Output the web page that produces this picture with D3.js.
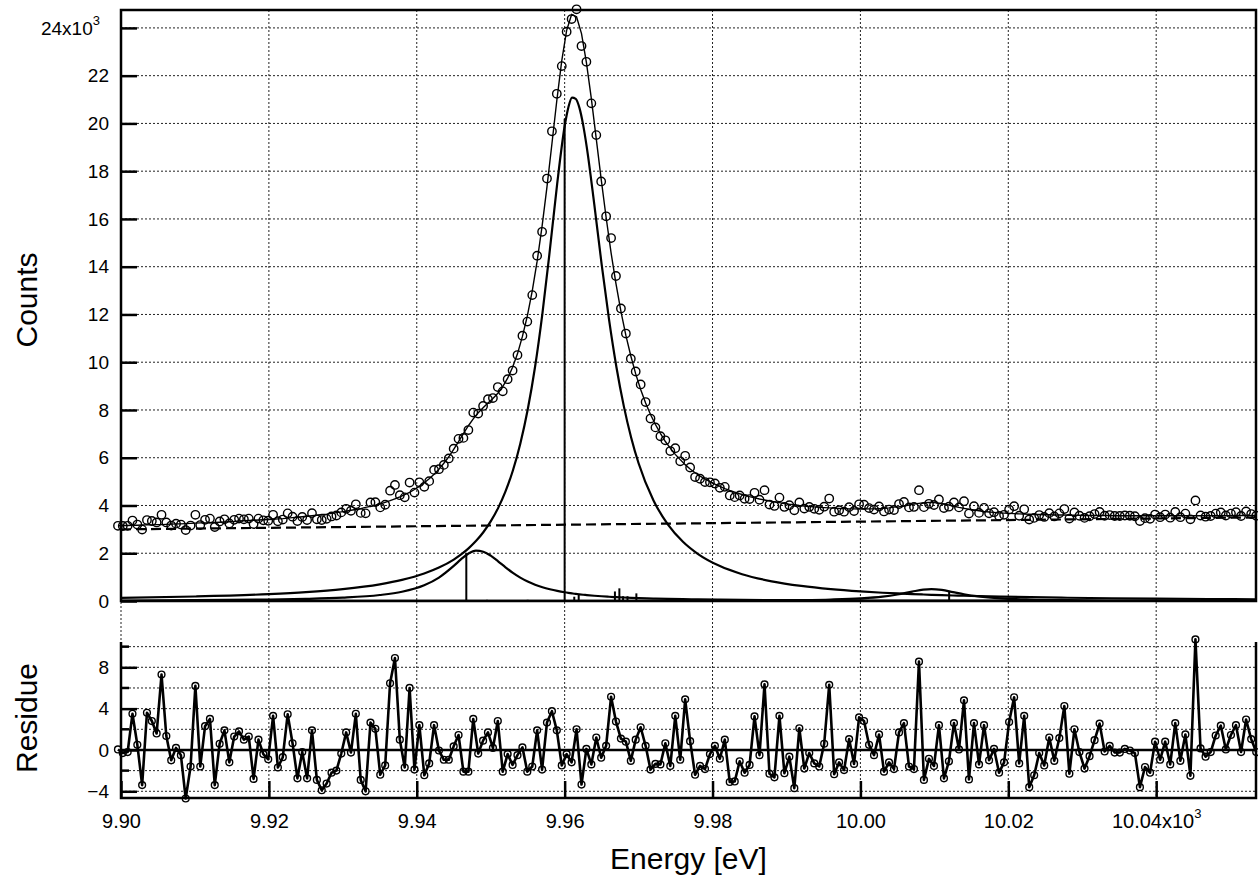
<!DOCTYPE html>
<html><head><meta charset="utf-8">
<script src="https://cdn.jsdelivr.net/npm/d3@7"></script>
<style>
body{margin:0;background:#fff}
svg{display:block}
text{font-family:"Liberation Sans",Arial,Helvetica,sans-serif;fill:#000}
</style>
</head><body>
<svg id="chart" width="1258" height="879"></svg>
<script>
// ---------------- data (energies in eV, counts in units of 10^3) ----------------
const energy = [
9899.59,9900.24,9900.90,9901.55,9902.21,9902.86,9903.51,9904.17,9904.82,9905.48,
9906.13,9906.79,9907.44,9908.10,9908.75,9909.41,9910.06,9910.72,9911.37,9912.03,
9912.68,9913.34,9913.99,9914.65,9915.31,9915.96,9916.62,9917.28,9917.93,9918.59,
9919.25,9919.91,9920.57,9921.22,9921.88,9922.54,9923.20,9923.86,9924.51,9925.17,
9925.83,9926.49,9927.15,9927.81,9928.47,9929.13,9929.79,9930.45,9931.10,9931.76,
9932.42,9933.08,9933.74,9934.40,9935.06,9935.73,9936.39,9937.05,9937.71,9938.37,
9939.03,9939.69,9940.35,9941.02,9941.68,9942.34,9943.00,9943.66,9944.33,9944.99,
9945.65,9946.31,9946.98,9947.64,9948.31,9948.97,9949.63,9950.30,9950.96,9951.63,
9952.29,9952.96,9953.62,9954.29,9954.95,9955.62,9956.28,9956.95,9957.61,9958.28,
9958.94,9959.61,9960.27,9960.94,9961.61,9962.28,9962.94,9963.61,9964.28,9964.94,
9965.61,9966.28,9966.94,9967.61,9968.28,9968.95,9969.61,9970.28,9970.95,9971.61,
9972.28,9972.95,9973.62,9974.29,9974.96,9975.63,9976.30,9976.97,9977.64,9978.31,
9978.98,9979.65,9980.32,9980.99,9981.66,9982.33,9983.00,9983.67,9984.34,9985.01,
9985.68,9986.35,9987.03,9987.70,9988.37,9989.05,9989.72,9990.39,9991.06,9991.74,
9992.41,9993.08,9993.76,9994.43,9995.10,9995.78,9996.45,9997.12,9997.79,9998.47,
9999.14,9999.82,10000.49,10001.17,10001.84,10002.52,10003.19,10003.87,10004.54,10005.22,
10005.89,10006.57,10007.24,10007.92,10008.59,10009.27,10009.95,10010.62,10011.30,10011.97,
10012.65,10013.33,10014.01,10014.68,10015.36,10016.04,10016.72,10017.40,10018.07,10018.75,
10019.43,10020.11,10020.79,10021.47,10022.15,10022.83,10023.50,10024.18,10024.86,10025.54,
10026.22,10026.90,10027.58,10028.26,10028.94,10029.62,10030.31,10030.99,10031.67,10032.35,
10033.03,10033.71,10034.39,10035.08,10035.76,10036.44,10037.12,10037.80,10038.49,10039.17,
10039.85,10040.53,10041.22,10041.90,10042.58,10043.27,10043.95,10044.63,10045.31,10046.00,
10046.68,10047.37,10048.05,10048.74,10049.42,10050.11,10050.79,10051.48,10052.16,10052.85,
10053.53];

const counts = [
3.15,3.14,3.15,3.37,3.20,2.99,3.39,3.35,3.29,3.61,
3.29,3.16,3.24,3.20,2.97,3.16,3.61,3.18,3.40,3.45,
3.10,3.33,3.42,3.25,3.40,3.45,3.42,3.45,3.22,3.45,
3.38,3.36,3.61,3.34,3.41,3.67,3.53,3.35,3.52,3.39,
3.68,3.42,3.39,3.44,3.54,3.58,3.71,3.86,3.78,4.05,
3.69,3.67,4.13,4.14,3.92,4.03,4.62,4.86,4.43,4.34,
4.96,4.54,4.97,4.78,5.02,5.49,5.52,5.70,5.97,6.38,
6.79,6.83,7.16,7.89,7.85,8.17,8.45,8.50,8.96,8.78,
9.29,9.65,10.30,11.11,11.70,12.81,14.46,15.46,17.69,19.67,
21.24,22.40,23.84,24.37,24.78,23.24,22.58,20.84,19.51,17.57,
16.11,15.20,13.61,12.25,11.20,10.15,9.61,9.07,8.33,7.64,
7.27,6.90,6.73,6.28,6.40,5.85,6.08,5.59,5.19,5.12,
4.98,4.97,4.92,4.74,4.78,4.42,4.35,4.42,4.28,4.27,
4.53,4.24,4.64,4.04,3.98,4.33,3.94,4.01,3.80,4.13,
3.87,3.94,3.86,3.82,3.95,4.29,3.74,3.80,3.74,3.93,
3.77,4.05,4.03,3.89,3.83,3.96,3.75,3.83,3.81,4.06,
4.15,3.92,3.94,4.64,3.93,4.07,4.02,4.25,3.89,3.95,
4.13,3.92,4.18,3.66,3.97,3.69,3.90,3.67,3.72,3.56,
3.61,3.83,3.97,3.57,3.84,3.41,3.48,3.60,3.52,3.68,
3.54,3.67,3.85,3.45,3.71,3.57,3.48,3.55,3.64,3.73,
3.57,3.60,3.56,3.56,3.58,3.57,3.55,3.35,3.47,3.44,
3.62,3.51,3.62,3.49,3.73,3.51,3.66,3.42,4.21,3.58,
3.53,3.56,3.66,3.71,3.58,3.66,3.72,3.56,3.75,3.64,
3.57];

const fitTotal = [
3.15,3.16,3.16,3.17,3.17,3.18,3.19,3.19,3.20,3.20,
3.21,3.22,3.23,3.23,3.24,3.25,3.26,3.27,3.27,3.28,
3.29,3.30,3.31,3.32,3.33,3.35,3.36,3.37,3.38,3.39,
3.40,3.41,3.42,3.44,3.45,3.47,3.49,3.51,3.53,3.55,
3.57,3.59,3.62,3.64,3.67,3.70,3.73,3.76,3.80,3.83,
3.87,3.92,3.96,4.01,4.07,4.13,4.20,4.28,4.36,4.45,
4.55,4.67,4.80,4.95,5.12,5.31,5.52,5.77,6.04,6.35,
6.67,7.01,7.34,7.63,7.88,8.09,8.29,8.48,8.70,8.98,
9.33,9.79,10.35,11.08,11.93,12.99,14.23,15.70,17.34,19.15,
20.96,22.63,23.90,24.56,24.47,23.76,22.56,21.04,19.34,17.67,
16.06,14.58,13.29,12.13,11.12,10.26,9.51,8.86,8.29,7.81,
7.39,7.02,6.68,6.40,6.14,5.92,5.71,5.53,5.37,5.23,
5.11,5.00,4.89,4.80,4.71,4.63,4.56,4.49,4.43,4.37,
4.32,4.27,4.23,4.19,4.15,4.12,4.08,4.05,4.03,4.00,
3.98,3.96,3.94,3.92,3.91,3.90,3.89,3.88,3.87,3.86,
3.86,3.85,3.85,3.86,3.86,3.87,3.88,3.90,3.93,3.95,
3.98,4.02,4.06,4.09,4.12,4.13,4.12,4.10,4.06,4.02,
3.97,3.92,3.88,3.84,3.81,3.78,3.75,3.73,3.71,3.69,
3.68,3.67,3.66,3.65,3.64,3.63,3.62,3.62,3.61,3.61,
3.60,3.60,3.60,3.59,3.59,3.59,3.58,3.58,3.58,3.58,
3.58,3.58,3.57,3.57,3.57,3.57,3.57,3.57,3.57,3.57,
3.57,3.57,3.57,3.57,3.57,3.57,3.57,3.57,3.57,3.57,
3.57,3.57,3.57,3.57,3.57,3.57,3.58,3.58,3.58,3.58,
3.58];

const residue = [
0.05,-0.3,-0.2,3.5,0.5,-3.4,3.6,2.8,1.6,7.3,
1.35,-1.0,0.2,-0.5,-4.7,-1.6,6.2,-1.6,2.3,3.0,
-3.4,0.6,1.9,-1.2,1.3,1.8,1.0,1.3,-2.8,1.0,
-0.4,-0.9,3.3,-1.7,-0.7,3.45,0.65,-2.75,-0.2,-2.75,
1.9,-2.9,-3.9,-3.25,-2.2,-2.0,-0.35,1.7,-0.25,3.5,
-2.9,-4.0,2.65,2.05,-2.4,-1.5,6.45,8.9,1.0,-1.7,
6.0,-1.9,2.4,-2.45,-1.3,2.4,-0.05,-0.95,-0.95,0.35,
1.45,-2.1,-2.1,3.0,-0.35,0.9,1.7,0.2,2.8,-2.1,
-0.4,-1.45,-0.5,0.25,-2.1,-1.6,1.9,-1.9,2.65,3.75,
1.9,-1.5,-0.4,-1.2,2.0,-3.35,0.1,-1.4,1.2,-0.75,
0.4,5.15,2.75,1.1,0.8,-1.05,1.0,2.2,0.4,-1.9,
-1.35,-1.4,0.65,-1.55,3.3,-0.95,4.9,0.85,-2.4,-1.55,
-1.85,-0.4,0.4,-0.85,1.0,-3.1,-3.05,-1.1,-2.2,-1.45,
3.25,-0.5,6.35,-2.3,-2.65,3.3,-2.25,-0.65,-3.7,2.1,
-1.8,-0.3,-1.3,-1.6,0.6,6.3,-2.35,-1.2,-1.95,1.05,
-1.35,3.15,2.8,0.5,-0.5,1.5,-2.1,-1.2,-1.85,1.7,
2.6,-1.6,-1.85,8.55,-2.9,-0.85,-1.55,2.4,-2.75,-1.1,
2.6,0.05,4.8,-2.85,2.6,-1.4,2.4,-1.0,0.1,-2.2,
-1.2,2.7,5.1,-1.3,3.3,-3.6,-2.45,-0.3,-1.5,1.2,
-1.05,1.15,4.25,-2.3,2.0,-0.2,-1.8,-0.6,0.95,2.55,
-0.15,0.4,-0.25,-0.25,0.1,-0.05,-0.3,-3.6,-1.65,-2.2,
0.8,-0.95,0.8,-1.4,2.6,-1.05,1.5,-2.5,10.7,0.15,
-0.65,-0.2,1.4,2.35,0.05,1.45,2.4,-0.2,2.95,1.05,
-0.2];

// fitted components (sampled)
const compEnergy = [9900,9910,9920,9925,9930,9935,9938,9941,9943,9945,9946,9947,9948,9949,9950,9951,9952,9953,9954,9955,9956,9957,9958,9959,9960,9960.5,9961,9961.5,9962,9962.5,9963,9964,9965,9966,9967,9968,9969,9970,9972,9974,9976,9978,9981,9984,9988,9992,9996,10000,10003,10005,10007,10008.5,10009.6,10011,10012.5,10014,10016,10019,10023,10028,10034,10040,10047,10053.5];
const mainPeak = [0.132,0.188,0.288,0.372,0.498,0.699,0.883,1.150,1.399,1.735,1.950,2.205,2.509,2.879,3.333,3.890,4.588,5.466,6.590,8.010,9.810,12.06,14.70,17.50,19.88,20.67,21.08,21.03,20.65,19.94,18.99,16.63,14.11,11.79,9.80,8.16,6.84,5.77,4.22,3.19,2.48,1.976,1.461,1.121,0.824,0.630,0.496,0.401,0.346,0.316,0.289,0.272,0.260,0.245,0.231,0.219,0.203,0.183,0.160,0.137,0.115,0.099,0.083,0.072];
const satellitePeak = [0.021,0.034,0.061,0.088,0.140,0.251,0.389,0.659,0.981,1.470,1.750,1.989,2.107,2.065,1.899,1.663,1.411,1.179,0.980,0.816,0.684,0.577,0.492,0.422,0.365,0.341,0.319,0.298,0.280,0.263,0.248,0.221,0.198,0.178,0.161,0.146,0.133,0.122,0.103,0.089,0.077,0.067,0.056,0.047,0.038,0.032,0.027,0.023,0.020,0.019,0.018,0.017,0.016,0.016,0.015,0.014,0.014,0.012,0.011,0.010,0.008,0.007,0.006,0.006];
const highPeak = [0.001,0.001,0.002,0.002,0.002,0.002,0.002,0.003,0.003,0.003,0.003,0.003,0.003,0.003,0.004,0.004,0.004,0.004,0.004,0.004,0.004,0.005,0.005,0.005,0.005,0.005,0.005,0.005,0.005,0.006,0.006,0.006,0.006,0.007,0.007,0.007,0.008,0.008,0.009,0.010,0.011,0.012,0.015,0.018,0.025,0.037,0.060,0.107,0.182,0.271,0.394,0.477,0.500,0.464,0.374,0.282,0.190,0.110,0.061,0.034,0.020,0.013,0.009,0.006];

const bgEnergy = [9900,9940,9980,10020,10053.5];
const bgLevel = [3.00,3.13,3.26,3.39,3.50];

const stickEnergy = [9946.7,9949.5,9952.7,9955.0,9960.0,9961.3,9961.9,9966.8,9967.4,9967.9,9968.5,9969.7,10012.0];
const stickHeight = [2.0,0.05,0.04,0.05,20.2,0.18,0.28,0.40,0.53,0.20,0.20,0.32,0.40];

const xTicks = [9900,9920,9940,9960,9980,10000,10020,10040];
const countTicks = [0,2,4,6,8,10,12,14,16,18,20,22,24];
const residueMajor = [-4,0,4,8];
const residueMinor = [-2,2,6,10];
const residueGrid = [-4,-2,2,4,6,8,10];

// ---------------- drawing ----------------
const W = 1258, H = 879;
const x = d3.scaleLinear().domain([9900, 10053.5]).range([121, 1256]);
const yT = d3.scaleLinear().domain([0, 24.75]).range([601, 10]);
const yR = d3.scaleLinear().domain([-4.65, 10.45]).range([798, 642]);
const [xL, xR] = x.range();

const svg = d3.select('#chart');
svg.append('rect').attr('width', W).attr('height', H).attr('fill', '#fff');

// grid
const grid = svg.append('g').attr('stroke', '#222').attr('stroke-width', 1).attr('stroke-dasharray', '2,2').attr('fill', 'none');
grid.selectAll('line.v').data(xTicks).join('line')
  .attr('x1', d => x(d)).attr('x2', d => x(d))
  .attr('y1', yT.range()[1]).attr('y2', yR.range()[0]);
grid.selectAll('line.ht').data(countTicks.filter(d => d > 0)).join('line').attr('class','ht')
  .attr('x1', xL).attr('x2', xR).attr('y1', d => yT(d)).attr('y2', d => yT(d));
grid.selectAll('line.hr').data(residueGrid).join('line').attr('class','hr')
  .attr('x1', xL).attr('x2', xR).attr('y1', d => yR(d)).attr('y2', d => yR(d));

// components
const compLine = vals => d3.line().x((d, i) => x(compEnergy[i])).y(d => yT(d)).curve(d3.curveMonotoneX)(vals);
[mainPeak, satellitePeak, highPeak].forEach(v => {
  svg.append('path').attr('d', compLine(v)).attr('fill', 'none').attr('stroke', '#000').attr('stroke-width', 2.2);
});

// background
svg.append('path')
  .attr('d', d3.line().x((d, i) => x(bgEnergy[i])).y(d => yT(d))(bgLevel))
  .attr('fill', 'none').attr('stroke', '#000').attr('stroke-width', 2.2).attr('stroke-dasharray', '10,5');

// sticks
svg.append('g').selectAll('line').data(stickEnergy).join('line')
  .attr('x1', d => x(d)).attr('x2', d => x(d))
  .attr('y1', yT(0)).attr('y2', (d, i) => yT(stickHeight[i]))
  .attr('stroke', '#000').attr('stroke-width', 2);

// total fit
svg.append('path')
  .attr('d', d3.line().x((d, i) => x(energy[i])).y(d => yT(d))(fitTotal))
  .attr('fill', 'none').attr('stroke', '#000').attr('stroke-width', 1.4);

// data points
svg.append('g').selectAll('circle').data(counts).join('circle')
  .attr('cx', (d, i) => x(energy[i])).attr('cy', d => yT(d)).attr('r', 4.2)
  .attr('fill', 'none').attr('stroke', '#000').attr('stroke-width', 1.4);

// residue panel
svg.append('line').attr('x1', xL).attr('x2', xR).attr('y1', yR(0)).attr('y2', yR(0))
  .attr('stroke', '#000').attr('stroke-width', 2.5);
svg.append('path')
  .attr('d', d3.line().x((d, i) => x(energy[i])).y(d => yR(d))(residue))
  .attr('fill', 'none').attr('stroke', '#000').attr('stroke-width', 2.6).attr('stroke-linejoin', 'round');
svg.append('g').selectAll('circle').data(residue).join('circle')
  .attr('cx', (d, i) => x(energy[i])).attr('cy', d => yR(d)).attr('r', 3.4)
  .attr('fill', 'none').attr('stroke', '#000').attr('stroke-width', 1.4);

// frames
svg.append('rect').attr('x', xL).attr('y', yT.range()[1]).attr('width', xR - xL).attr('height', yT(0) - yT.range()[1])
  .attr('fill', 'none').attr('stroke', '#000').attr('stroke-width', 2.5);
svg.append('path').attr('d', `M${xL},${yR.range()[1]}V${yR.range()[0]}H${xR}V${yR.range()[1]}`)
  .attr('fill', 'none').attr('stroke', '#000').attr('stroke-width', 2.5);

// axes
function styleAxis(g, fs) {
  g.select('.domain').remove();
  g.selectAll('.tick line').attr('stroke', '#000').attr('stroke-width', 2.5);
  g.selectAll('.tick text').attr('font-size', fs).attr('font-family', '"Liberation Sans",Arial,Helvetica,sans-serif').attr('fill', '#000');
}
const axT = svg.append('g').attr('transform', `translate(${xL},0)`)
  .call(d3.axisLeft(yT).tickValues(countTicks).tickSize(-16).tickPadding(12).tickFormat(d => d === 24 ? '24x10' : d));
styleAxis(axT, 19);
axT.selectAll('.tick text').filter(d => d === 24).attr('x', -21)
  .append('tspan').attr('font-size', 13).attr('dy', '-0.75em').text('3');

const axR = svg.append('g').attr('transform', `translate(${xL},0)`)
  .call(d3.axisLeft(yR).tickValues(residueMajor).tickSize(-16).tickPadding(12));
styleAxis(axR, 19);
svg.append('g').selectAll('line').data(residueMinor).join('line')
  .attr('x1', xL).attr('x2', xL + 8).attr('y1', d => yR(d)).attr('y2', d => yR(d))
  .attr('stroke', '#000').attr('stroke-width', 2.5);

const axX = svg.append('g').attr('transform', `translate(0,${yR.range()[0]})`)
  .call(d3.axisBottom(x).tickValues(xTicks).tickSize(-17).tickPadding(16).tickFormat(d => (d / 1000).toFixed(2) + (d === 10040 ? 'x10' : '')));
styleAxis(axX, 20);
axX.selectAll('.tick text').filter(d => d === 10040)
  .append('tspan').attr('font-size', 13).attr('dy', '-0.8em').text('3');

// titles
svg.append('text').attr('transform', 'translate(37,300) rotate(-90)').attr('text-anchor', 'middle')
  .attr('font-size', 30).text('Counts');
svg.append('text').attr('transform', 'translate(37,718) rotate(-90)').attr('text-anchor', 'middle')
  .attr('font-size', 30).text('Residue');
svg.append('text').attr('x', (xL + xR) / 2).attr('y', 869).attr('text-anchor', 'middle')
  .attr('font-size', 30).text('Energy [eV]');
</script>
</body></html>
